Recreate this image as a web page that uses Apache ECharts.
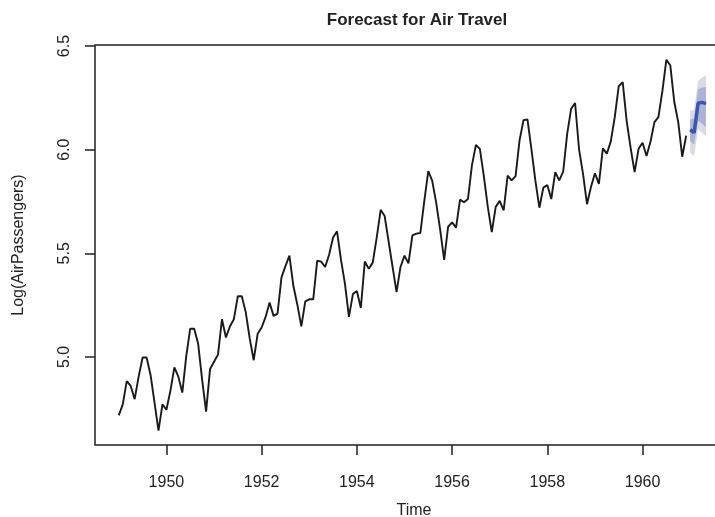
<!DOCTYPE html>
<html>
<head>
<meta charset="utf-8">
<script src="https://cdn.jsdelivr.net/npm/echarts@6/dist/echarts.min.js"></script>
<style>html,body{margin:0;padding:0;background:#fff}#c{width:715px;height:517px}</style>
</head>
<body>
<div id="c"></div>
<script>
// Log(AirPassengers), monthly from Jan 1949
const startYear = 1949;
const logPassengers = [
  4.718, 4.771, 4.883, 4.860, 4.796, 4.905, 4.997, 4.997, 4.913, 4.779, 4.644, 4.771,
  4.745, 4.836, 4.949, 4.905, 4.828, 5.004, 5.136, 5.136, 5.063, 4.890, 4.736, 4.942,
  4.977, 5.011, 5.182, 5.094, 5.147, 5.182, 5.293, 5.293, 5.215, 5.088, 4.984, 5.112,
  5.142, 5.193, 5.263, 5.198, 5.209, 5.384, 5.438, 5.489, 5.342, 5.252, 5.147, 5.268,
  5.278, 5.278, 5.464, 5.460, 5.434, 5.493, 5.576, 5.606, 5.468, 5.352, 5.193, 5.303,
  5.318, 5.236, 5.460, 5.425, 5.455, 5.576, 5.710, 5.680, 5.557, 5.434, 5.313, 5.434,
  5.489, 5.451, 5.587, 5.595, 5.598, 5.753, 5.897, 5.849, 5.743, 5.613, 5.468, 5.628,
  5.649, 5.624, 5.759, 5.746, 5.762, 5.924, 6.023, 6.004, 5.872, 5.724, 5.602, 5.724,
  5.753, 5.707, 5.875, 5.852, 5.872, 6.045, 6.142, 6.146, 6.001, 5.849, 5.720, 5.817,
  5.829, 5.762, 5.892, 5.852, 5.894, 6.075, 6.197, 6.225, 6.001, 5.883, 5.737, 5.820,
  5.886, 5.835, 6.006, 5.981, 6.040, 6.157, 6.306, 6.326, 6.138, 6.009, 5.892, 6.004,
  6.033, 5.969, 6.038, 6.133, 6.157, 6.282, 6.433, 6.407, 6.230, 6.133, 5.966, 6.068
];
// Forecast, Jan–May 1961
const fcStartYear = 1961;
const fcMean = [6.096, 6.082, 6.224, 6.228, 6.222];
const fcLo80 = [6.040, 6.025, 6.140, 6.125, 6.108];
const fcHi80 = [6.145, 6.150, 6.290, 6.300, 6.302];
const fcLo95 = [5.985, 5.970, 6.100, 6.080, 6.065];
const fcHi95 = [6.185, 6.195, 6.330, 6.348, 6.360];
const xTicks = [1950, 1952, 1954, 1956, 1958, 1960];
const yTicks = [5.0, 5.5, 6.0, 6.5];

const t = (y0, i) => y0 + i / 12;
const histData = logPassengers.map((v, i) => [t(startYear, i), v]);
const fx = i => t(fcStartYear, i);
const meanData = fcMean.map((v, i) => [fx(i), v]);
// band polygons: [lower array, upper array, colour]
const bands = [
  [fcLo95, fcHi95, '#d9dae3'],
  [fcLo80, fcHi80, '#adb3d7']
];

const font = 'Liberation Sans, Arial, Helvetica, sans-serif';

function bandSeries(lo, hi, color) {
  return {
    type: 'custom',
    data: [[fx(0), lo[0]]],
    silent: true,
    clip: true,
    renderItem: function (params, api) {
      const pts = [];
      for (let i = 0; i < lo.length; i++) pts.push(api.coord([fx(i), hi[i]]));
      for (let i = lo.length - 1; i >= 0; i--) pts.push(api.coord([fx(i), lo[i]]));
      return {type: 'polygon', shape: {points: pts}, style: {fill: color, stroke: null}};
    }
  };
}

const chart = echarts.init(document.getElementById('c'), null, {renderer: 'canvas'});
chart.setOption({
  animation: false,
  backgroundColor: '#fff',
  title: {
    text: 'Forecast for Air Travel',
    left: 412, top: 7, textAlign: 'center',
    textStyle: {fontFamily: font, fontWeight: 'bold', fontSize: 17, color: '#222'}
  },
  grid: {left: 95, top: 45, width: 638, height: 400, show: true, outerBoundsMode: 'none',
         containLabel: false,
         borderColor: '#222', borderWidth: 1.5, backgroundColor: 'transparent'},
  xAxis: {
    type: 'value', min: 1948.5, max: 1961.9,
    name: 'Time', nameLocation: 'middle', nameGap: 58,
    nameTextStyle: {fontFamily: font, fontSize: 16, color: '#222'},
    axisLine: {show: false},
    splitLine: {show: false},
    axisTick: {show: true, length: 10, lineStyle: {color: '#222', width: 1.5}, customValues: xTicks},
    axisLabel: {fontFamily: font, fontSize: 16, color: '#222', margin: 30, customValues: xTicks,
                formatter: v => String(v)}
  },
  yAxis: {
    type: 'value', min: 4.575, max: 6.505,
    name: 'Log(AirPassengers)', nameLocation: 'middle', nameGap: 68,
    nameTextStyle: {fontFamily: font, fontSize: 16, color: '#222'},
    axisLine: {show: false},
    splitLine: {show: false},
    axisTick: {show: true, length: 10, lineStyle: {color: '#222', width: 1.5}, customValues: yTicks},
    axisLabel: {fontFamily: font, fontSize: 16, color: '#222', margin: 22, rotate: 90,
                customValues: yTicks, formatter: v => v.toFixed(1)}
  },
  series: [
    bandSeries(bands[0][0], bands[0][1], bands[0][2]),
    bandSeries(bands[1][0], bands[1][1], bands[1][2]),
    {type: 'line', data: meanData, symbol: 'none', lineStyle: {color: '#3b55b0', width: 3.5}},
    {type: 'line', data: histData, symbol: 'none', lineStyle: {color: '#1a1a1a', width: 1.9}}
  ]
});
</script>
</body>
</html>
